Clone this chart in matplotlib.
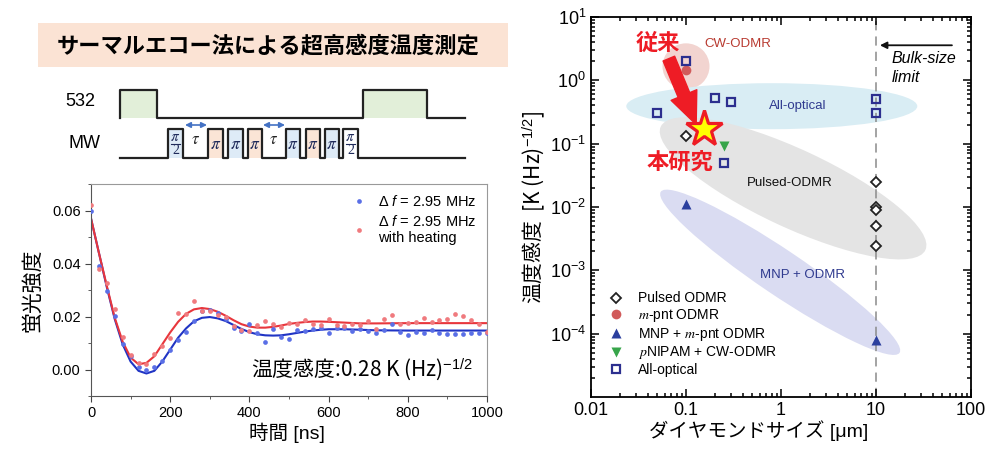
import matplotlib
matplotlib.use("Agg")
import matplotlib.pyplot as plt
from matplotlib.patches import Ellipse, Rectangle
from matplotlib.transforms import ScaledTranslation
from matplotlib.ticker import MultipleLocator, LogLocator, NullFormatter, FormatStrFormatter

plt.rcParams['font.family'] = ['Liberation Sans', 'Noto Sans CJK JP', 'DejaVu Sans']
plt.rcParams['mathtext.fontset'] = 'custom'
plt.rcParams['mathtext.rm'] = 'Liberation Sans'
plt.rcParams['mathtext.it'] = 'Liberation Sans:italic'

DPI = 100
CJK = ['Noto Sans CJK JP', 'DejaVu Sans']

# ---- echo data (left) ----
t_ns = list(range(0, 1001, 20))
blue_pts = [0.060, 0.039, 0.0297, 0.0203, 0.0097, 0.005, 0.0011, 0.0000, 0.0011, 0.0034,
            0.0074, 0.011, 0.0143, 0.0183, 0.0222, 0.0225, 0.0212, 0.019, 0.0158, 0.0145,
            0.017, 0.0136, 0.0104, 0.0153, 0.0123, 0.0115, 0.0148, 0.0144, 0.0153, 0.0155,
            0.0138, 0.0158, 0.0158, 0.0144, 0.0153, 0.0144, 0.0138, 0.0148, 0.017, 0.014,
            0.0131, 0.014, 0.0138, 0.0148, 0.0136, 0.0134, 0.0134, 0.0134, 0.0138, 0.0138, 0.0138]
red_pts = [0.062, 0.038, 0.0325, 0.023, 0.0124, 0.0056, 0.0026, 0.0021, 0.0058, 0.009,
           0.0118, 0.0213, 0.0208, 0.026, 0.0222, 0.022, 0.0205, 0.0199, 0.0163, 0.0148,
           0.0146, 0.0167, 0.0182, 0.017, 0.016, 0.0176, 0.0173, 0.0188, 0.0173, 0.0169,
           0.019, 0.0167, 0.0166, 0.017, 0.0169, 0.0182, 0.0154, 0.0189, 0.0204, 0.0173,
           0.0175, 0.0178, 0.0195, 0.0178, 0.0186, 0.0191, 0.0209, 0.0201, 0.0186, 0.0173, 0.0142]

fit_t = [0, 20, 40, 60, 80, 100, 120, 140, 160, 180, 200, 220, 240, 260, 280, 300, 320, 340,
         360, 380, 400, 420, 440, 460, 480, 500, 520, 540, 560, 580, 600, 640, 680, 720, 800, 900, 1000]
blue_fit = [0.057, 0.044, 0.031, 0.019, 0.0095, 0.003, -0.0005, -0.0015, -0.0005, 0.003,
            0.0075, 0.012, 0.0155, 0.0182, 0.0195, 0.0198, 0.0193, 0.0183, 0.0168, 0.0153,
            0.0141, 0.0133, 0.0129, 0.0128, 0.0129, 0.0133, 0.0138, 0.0143, 0.0147, 0.0150,
            0.0152, 0.0152, 0.0150, 0.0148, 0.0147, 0.0147, 0.0147]
red_fit = [0.057, 0.044, 0.0315, 0.0195, 0.0105, 0.0045, 0.002, 0.0025, 0.005, 0.0095,
           0.014, 0.018, 0.021, 0.0227, 0.0232, 0.0228, 0.0218, 0.0203, 0.0186, 0.0171,
           0.0162, 0.0158, 0.0158, 0.0161, 0.0166, 0.0172, 0.0176, 0.0179, 0.0181, 0.0181,
           0.0180, 0.0177, 0.0174, 0.0174, 0.0175, 0.0175, 0.0175]

# ---- sensitivity vs size (right) ----
pulsed_x = [0.1, 10, 10, 10, 10, 10]
pulsed_y = [0.13, 0.025, 0.01, 0.009, 0.005, 0.0024]
mpnt_x = [0.1]
mpnt_y = [1.45]
mnp_x = [0.1, 10]
mnp_y = [0.011, 8e-5]
pnipam_x = [0.25]
pnipam_y = [0.093]
optical_x = [0.05, 0.1, 0.2, 0.3, 0.25, 10, 10]
optical_y = [0.3, 2.05, 0.53, 0.46, 0.05, 0.5, 0.3]
this_x = [0.155]
this_y = [0.17]

# pulse sequence schematic (pixel positions)
laser_on = [(120, 157), (363, 427)]
mw_pulses = [(168, 183, 'h', '#deebf7'), (208, 223, 'p', '#fbe5d6'), (228, 243, 'p', '#deebf7'),
             (248, 262, 'p', '#fbe5d6'), (286, 300, 'p', '#deebf7'), (306, 320, 'p', '#fbe5d6'),
             (325, 339, 'p', '#deebf7'), (343, 358, 'h', '#ffffff')]
tau_arrows = [(185, 207), (263, 285)]

fig = plt.figure(figsize=(10, 4.67), dpi=DPI)

# background layer in pixel coords
bg = fig.add_axes([0, 0, 1, 1])
bg.set_xlim(0, 1000)
bg.set_ylim(467, 0)
bg.axis('off')
bg.add_patch(Rectangle((38, 23), 470, 44, fc='#fbe3d4', ec='none'))
bg.text(268, 46, 'サーマルエコー法による超高感度温度測定', fontsize=16, fontweight='bold',
        ha='center', va='center', family=CJK)

lo, hi = 118, 90
xs, ys = [120], [lo]
for a, b in laser_on:
    bg.add_patch(Rectangle((a, hi), b - a, lo - hi, fc='#e2efd9', ec='none'))
    xs += [a, a, b, b]
    ys += [lo, hi, hi, lo]
xs.append(465); ys.append(lo)
bg.plot(xs, ys, color='#222222', lw=1.6)
bg.text(80, 102, '532', fontsize=13, ha='center', va='center')

lo, hi = 158, 129
xs, ys = [120], [lo]
for a, b, kind, col in mw_pulses:
    bg.add_patch(Rectangle((a, hi), b - a, lo - hi, fc=col, ec='none'))
    xs += [a, a, b, b]
    ys += [lo, hi, hi, lo]
    mid = (a + b) / 2
    if kind == 'h':
        # stacked pi over 2
        bg.text(mid, 137, r'$\mathit{\pi}$', fontsize=11, ha='center', va='center',
                color='#1f2a5a', math_fontfamily='stix')
        bg.plot([a + 3, b - 3], [143.5, 143.5], color='#1f2a5a', lw=0.8)
        bg.text(mid, 150.5, '2', fontsize=10, ha='center', va='center', color='#1f2a5a',
                family=['Liberation Serif'])
    else:
        bg.text(mid, (lo + hi) / 2 + 1, r'$\mathit{\pi}$', fontsize=12.5, ha='center',
                va='center', color='#1f2a5a', math_fontfamily='stix')
xs.append(465); ys.append(lo)
bg.plot(xs, ys, color='#222222', lw=1.6)
bg.text(85, 143, 'MW', fontsize=13, ha='center', va='center')
for a, b in tau_arrows:
    bg.annotate('', xy=(a, 125), xytext=(b, 125),
                arrowprops=dict(arrowstyle='<|-|>', color='#4472c4', lw=1.2,
                                mutation_scale=8, shrinkA=0, shrinkB=0))
    bg.text((a + b) / 2, 140, r'$\mathit{\tau}$', fontsize=12, ha='center', va='center',
            color='#222222', math_fontfamily='stix')

# ---- left plot ----
ax1 = fig.add_axes([0.091, 0.152, 0.396, 0.454])
ax1.plot(fit_t, blue_fit, color='#2034c4', lw=1.5, zorder=2)
ax1.plot(fit_t, red_fit, color='#e8363c', lw=1.5, zorder=2)
ax1.plot(t_ns, blue_pts, 'o', ms=3.4, color='#5a6fe6', mec='none', zorder=3,
         label=r'$\Delta$ $f$ = 2.95 MHz')
ax1.plot(t_ns, red_pts, 'o', ms=3.4, color='#f07a7e', mec='none', zorder=3,
         label='$\\Delta$ $f$ = 2.95 MHz\nwith heating')
ax1.set_xlim(0, 1000)
ax1.set_ylim(-0.01, 0.07)
ax1.xaxis.set_major_locator(MultipleLocator(200))
ax1.xaxis.set_minor_locator(MultipleLocator(100))
ax1.yaxis.set_major_locator(MultipleLocator(0.02))
ax1.yaxis.set_minor_locator(MultipleLocator(0.01))
ax1.yaxis.set_major_formatter(FormatStrFormatter('%.2f'))
ax1.tick_params(which='both', direction='out', labelsize=10.5, color='#444444')
ax1.tick_params(which='major', length=4)
ax1.tick_params(which='minor', length=2.5)
for s in ['left', 'bottom']:
    ax1.spines[s].set_color('#555555')
for s in ['top', 'right']:
    ax1.spines[s].set_color('#999999')
ax1.set_xlabel('時間 [ns]', fontsize=14)
ax1.xaxis.set_label_coords(0.495, -0.125)
ax1.set_ylabel('蛍光強度', fontsize=15)
ax1.yaxis.set_label_coords(-0.122, 0.5)
ax1.legend(loc='upper right', frameon=False, fontsize=10.5, handletextpad=0.8,
           borderaxespad=0.3, labelspacing=0.3, handlelength=1.0)
ax1.text(0.965, 0.123, '温度感度:0.28 K (Hz)$^{-1/2}$', transform=ax1.transAxes,
         fontsize=15, ha='right', va='center', family=CJK)

# ---- right plot ----
ax2 = fig.add_axes([0.591, 0.150, 0.380, 0.8137])
ax2.set_xscale('log')
ax2.set_yscale('log')
ax2.set_xlim(0.01, 100)
ax2.set_ylim(1e-5, 10)
ax2.set_autoscale_on(False)


def blob(cx, cy, w, h, ang, color):
    tr = fig.dpi_scale_trans + ScaledTranslation(cx, cy, ax2.transData)
    ax2.add_artist(Ellipse((0, 0), w / DPI, h / DPI, angle=ang, transform=tr,
                           fc=color, ec='none', zorder=0.5))


blob(0.1, 1.66, 47, 46, 0, '#f2d4d0')
blob(0.8, 0.39, 291, 46, 0, '#d9edf4')
blob(1.34, 0.0197, 292, 78, -25, '#e4e4e4')
blob(0.98, 0.00093, 288, 45, -34, '#dadcf2')

ax2.axvline(10, color='#8a8a8a', lw=1.1, ls=(0, (6, 4)), zorder=1)

ax2.plot(pulsed_x, pulsed_y, 'D', ms=5.6, mfc='white', mec='#222222', mew=1.3,
         ls='none', zorder=3, label='Pulsed ODMR')
ax2.plot(mpnt_x, mpnt_y, 'o', ms=7, color='#d15b5b', mec='none', ls='none', zorder=3,
         label='$m$-pnt ODMR')
ax2.plot(mnp_x, mnp_y, '^', ms=7.5, color='#2b3f9e', mec='none', ls='none', zorder=3,
         label='MNP + $m$-pnt ODMR')
ax2.plot(pnipam_x, pnipam_y, 'v', ms=7.5, color='#37a54a', mec='none', ls='none', zorder=3,
         label='$p$NIPAM + CW-ODMR')
ax2.plot(optical_x, optical_y, 's', ms=6, mfc='none', mec='#2c2f8f', mew=1.6,
         ls='none', zorder=4, label='All-optical')

ax2.annotate('', xy=(0.128, 0.2), xytext=(0.066, 2.2),
             arrowprops=dict(arrowstyle='simple,head_length=1.15,head_width=1.0,tail_width=0.45',
                             color='#ee1c25', mutation_scale=20, shrinkA=0, shrinkB=0), zorder=5)
ax2.plot(this_x, this_y, '*', ms=27, mfc='#ffff00', mec='#ee1c25', mew=2.3, zorder=6)

ax2.text(0.05, 3.8, '従来', fontsize=16, fontweight='bold', color='#ee1c25',
         ha='center', va='center', family=CJK)
ax2.text(0.086, 0.051, '本研究', fontsize=16, fontweight='bold', color='#ee1c25',
         ha='center', va='center', family=CJK)
ax2.text(0.35, 3.8, 'CW-ODMR', fontsize=9.5, color='#b83a30', ha='center', va='center')
ax2.text(1.5, 0.39, 'All-optical', fontsize=9.5, color='#2f3a8f', ha='center', va='center')
ax2.text(1.24, 0.0236, 'Pulsed-ODMR', fontsize=9.5, color='#111111', ha='center', va='center')
ax2.text(1.7, 0.00083, 'MNP + ODMR', fontsize=9.5, color='#2f3a8f', ha='center', va='center')

ax2.annotate('', xy=(11, 3.57), xytext=(63, 3.57),
             arrowprops=dict(arrowstyle='-|>', color='#111111', lw=1.3,
                             mutation_scale=10, shrinkA=0, shrinkB=0))
ax2.text(14.5, 1.55, 'Bulk-size\nlimit', fontsize=11.5, style='italic', ha='left', va='center',
         linespacing=1.3)

ax2.set_xticks([0.01, 0.1, 1, 10, 100])
ax2.set_xticklabels(['0.01', '0.1', '1', '10', '100'])
ax2.xaxis.set_minor_locator(LogLocator(base=10, subs=range(2, 10)))
ax2.xaxis.set_minor_formatter(NullFormatter())
ax2.set_yticks([1e-4, 1e-3, 1e-2, 1e-1, 1, 10])
ax2.yaxis.set_minor_locator(LogLocator(base=10, subs=range(2, 10), numticks=10))
ax2.yaxis.set_minor_formatter(NullFormatter())
ax2.tick_params(which='both', direction='in', top=True, right=True, labelsize=13, width=1.1)
ax2.tick_params(which='major', length=6)
ax2.tick_params(which='minor', length=3)
for s in ax2.spines.values():
    s.set_linewidth(1.3)
ax2.set_xlabel('ダイヤモンドサイズ [μm]', fontsize=14)
ax2.xaxis.set_label_coords(0.44, -0.06)
ax2.set_ylabel('温度感度  [K (Hz)$^{-1/2}$]', fontsize=15, family=CJK)
ax2.yaxis.set_label_coords(-0.112, 0.5)

leg = ax2.legend(loc='lower left', frameon=False, handletextpad=0.6,
                 labelspacing=0.12, borderaxespad=0.4, bbox_to_anchor=(0.0, 0.023),
                 prop={'size': 10, 'math_fontfamily': 'stix'})

fig.savefig('out.png', dpi=DPI)
